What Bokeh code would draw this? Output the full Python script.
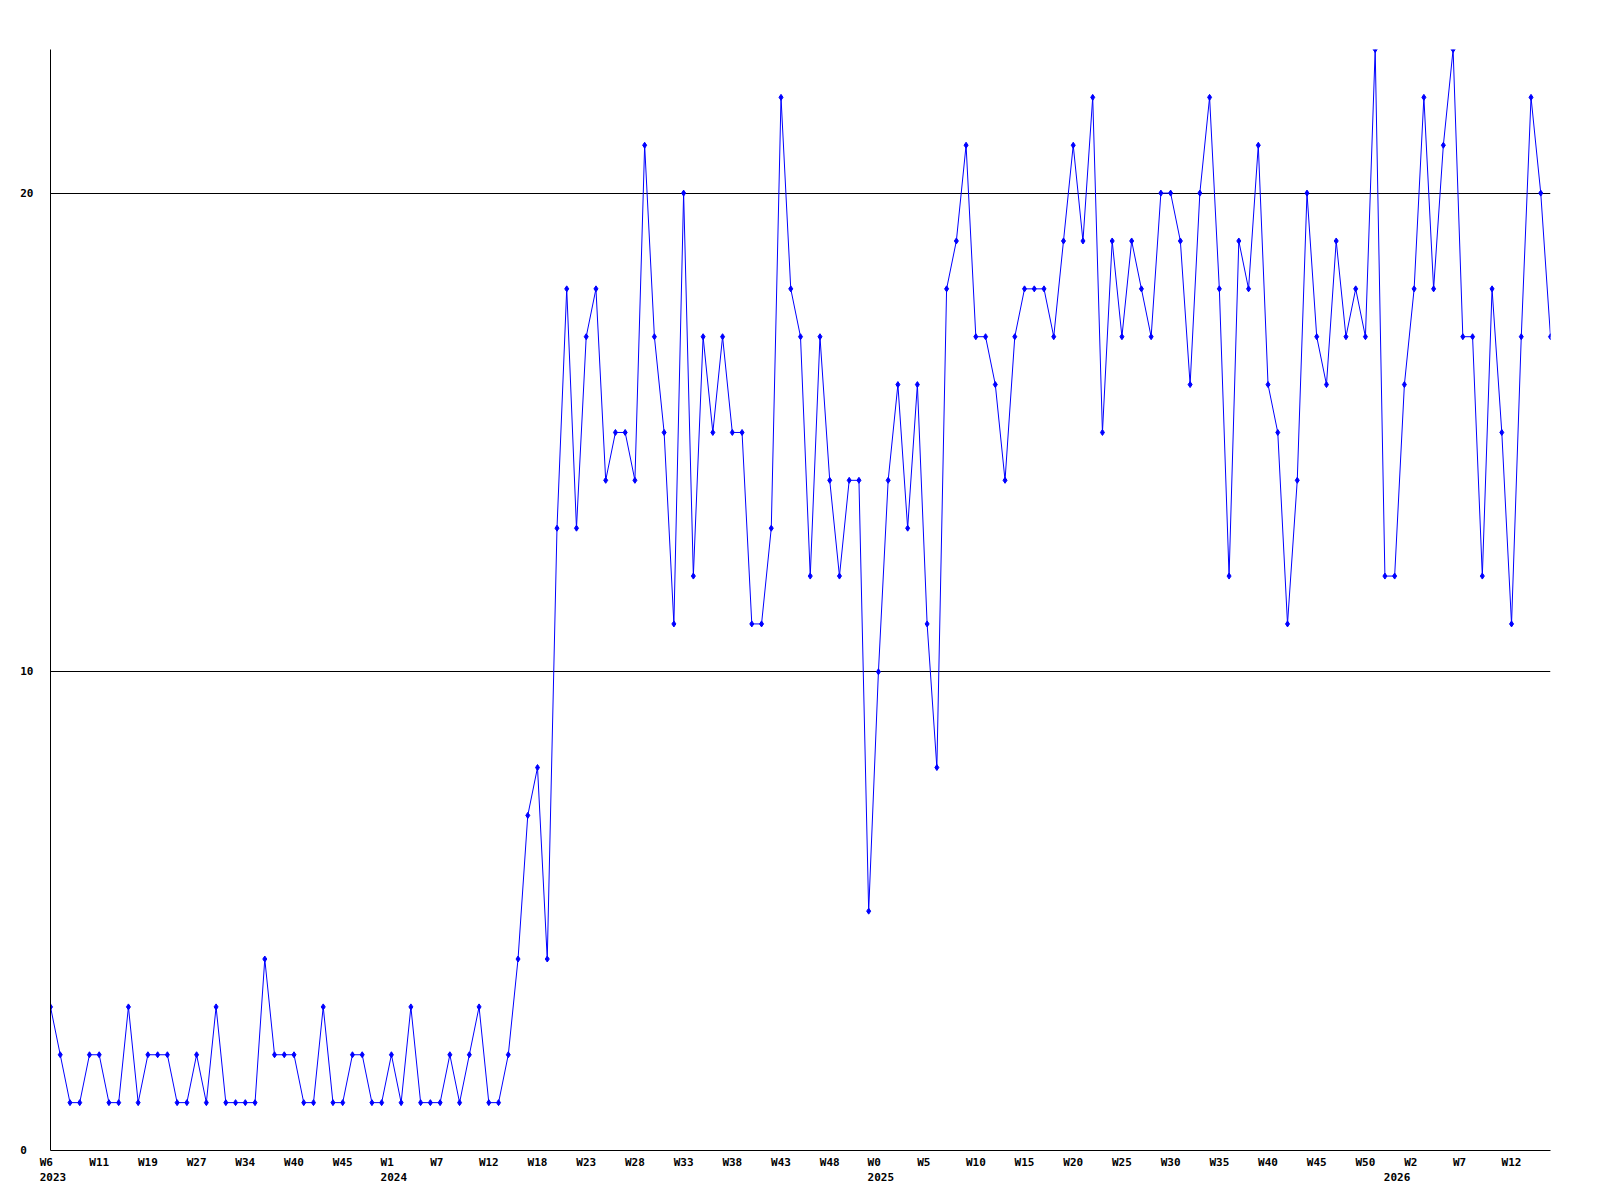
from bokeh.plotting import figure
from bokeh.models import Range1d, FixedTicker
from bokeh.embed import file_html
from bokeh.resources import INLINE

# ---- data ----
values = [
    3, 2, 1, 1, 2, 2, 1, 1, 3, 1, 2, 2, 2, 1, 1, 2, 1, 3, 1, 1,
    1, 1, 4, 2, 2, 2, 1, 1, 3, 1, 1, 2, 2, 1, 1, 2, 1, 3, 1, 1,
    1, 2, 1, 2, 3, 1, 1, 2, 4,
    7, 8, 4, 13, 18, 13, 17, 18, 14, 15, 15, 14, 21, 17, 15, 11, 20, 12, 17, 15,
    17, 15, 15, 11, 11, 13, 22, 18, 17, 12, 17, 14, 12, 14, 14, 5, 10, 14, 16, 13,
    16, 11, 8, 18, 19, 21, 17, 17, 16, 14, 17, 18, 18,
    18, 17, 19, 21, 19, 22, 15, 19, 17, 19, 18, 17, 20, 20, 19, 16, 20, 22, 18, 12,
    19, 18, 21, 16, 15, 11, 14, 20, 17, 16, 19, 17, 18, 17, 23, 12, 12, 16, 18, 22,
    18, 21, 23, 17, 17, 12, 18, 15, 11, 17, 22, 20, 17,
]
week_labels = ["W6", "W11", "W19", "W27", "W34", "W40", "W45", "W1", "W7", "W12",
               "W18", "W23", "W28", "W33", "W38", "W43", "W48", "W0", "W5", "W10",
               "W15", "W20", "W25", "W30", "W35", "W40", "W45", "W50", "W2", "W7", "W12"]
week_label_idx = list(range(0, 155, 5))
year_labels = ["2023", "2024", "2025", "2026"]
year_label_idx = [0, 35, 85, 138]
y_tick_values = [0, 10, 20]
y_max = 23

idx = list(range(len(values)))

# ---- layout ----
W, H = 1584, 1192
left, top = 50, 49
frame_w, frame_h = 1500, 1101
n_int = len(values) - 1
px_per_x = frame_w / n_int
NB = "\u00a0"

p = figure(width=W, height=H, output_backend="svg", toolbar_location=None,
           x_range=Range1d(0, n_int), y_range=Range1d(0, y_max),
           min_border_left=left, min_border_right=W - left - frame_w,
           min_border_top=top, min_border_bottom=H - top - frame_h,
           background_fill_color="white", border_fill_color="white")
p.outline_line_color = None

# x tick labels: week label, plus year underneath where a year starts
ticks = []
overrides = {}
year_at = dict(zip(year_label_idx, year_labels))
for i, lab in zip(week_label_idx, week_labels):
    if i in year_at:
        t = i + 2.4 / px_per_x
        txt = lab.ljust(4, NB) + "\n" + year_at[i]
    else:
        t = i + 0.0
        txt = lab.ljust(3, NB)
    ticks.append(t)
    overrides[t] = txt
# year starts that are not at a week label
for i, yl in year_at.items():
    if i not in week_label_idx:
        t = i + 2.4 / px_per_x
        ticks.append(t)
        overrides[t] = NB * 4 + "\n" + yl

xa = p.xaxis[0]
xa.ticker = FixedTicker(ticks=ticks)
xa.major_label_overrides = overrides
xa.major_label_standoff = 5
xa.major_label_text_line_height = 1.2

ya = p.yaxis[0]
ya.ticker = FixedTicker(ticks=y_tick_values)
ya.major_label_overrides = {v: (str(v) if v >= 10 else str(v) + NB) for v in y_tick_values}
ya.major_label_standoff = 17

for ax in (xa, ya):
    ax.axis_line_color = "black"
    ax.axis_line_width = 1
    ax.major_tick_line_color = None
    ax.minor_tick_line_color = None
    ax.major_tick_in = 0
    ax.major_tick_out = 0
    ax.minor_tick_in = 0
    ax.minor_tick_out = 0
    ax.major_label_text_font = "DejaVu Sans Mono"
    ax.major_label_text_font_size = "11px"
    ax.major_label_text_font_style = "bold"
    ax.major_label_text_color = "black"

p.xgrid.grid_line_color = None
p.ygrid.ticker = FixedTicker(ticks=[10, 20])
p.ygrid.grid_line_color = "black"
p.ygrid.grid_line_alpha = 1.0
p.ygrid.grid_line_width = 1

p.line(idx, values, line_color="#0000ff", line_width=1)
p.scatter(idx, values, marker="diamond", size=6, fill_color="#0000ff", line_color="#0000ff")

open("out.html", "w").write(file_html(p, INLINE))
